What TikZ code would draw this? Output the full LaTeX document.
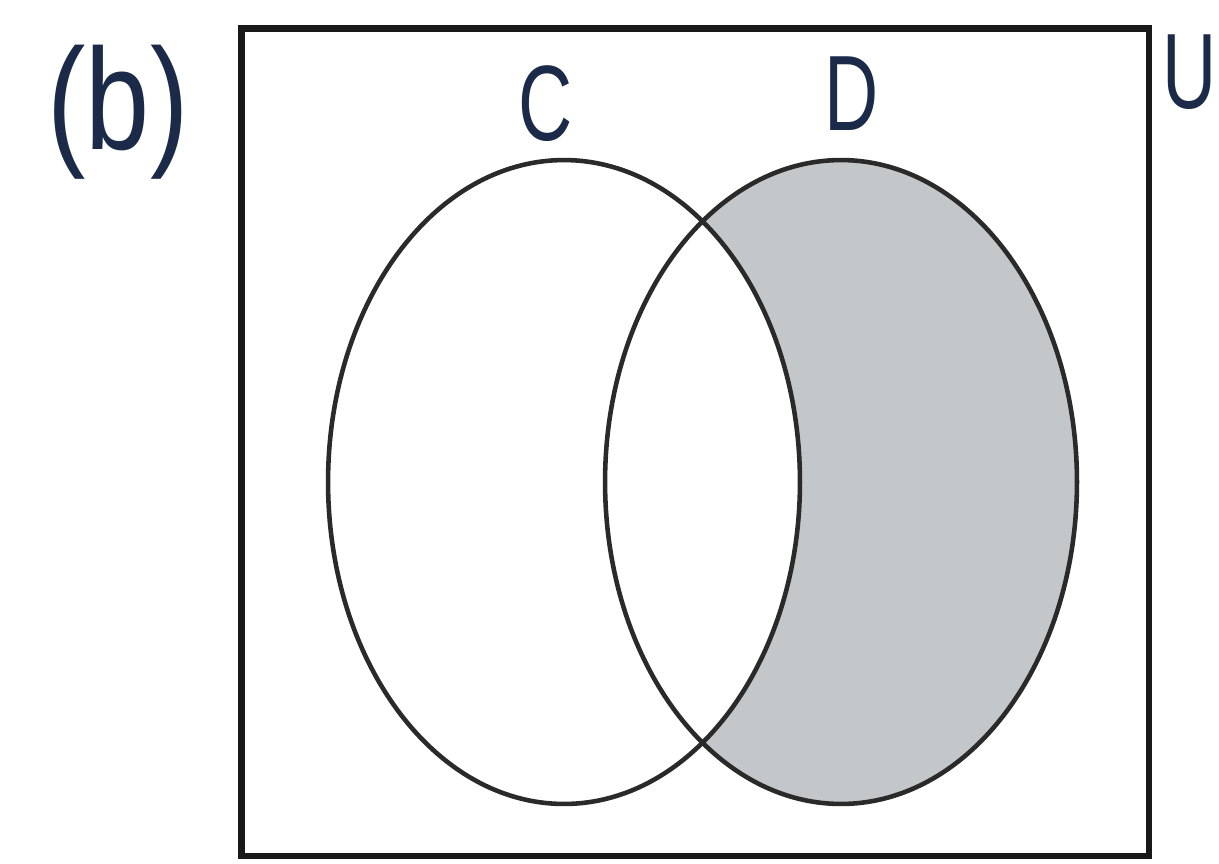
\documentclass[tikz,border=0pt]{standalone}
\usepackage{fontspec}
\setmainfont{Liberation Sans}
\definecolor{txt}{HTML}{1B2A48}
\definecolor{venngray}{HTML}{C3C7C9}
\definecolor{edge}{HTML}{2A2A2A}
\begin{document}
\begin{tikzpicture}[x=0.02cm,y=-0.02cm,
  lbl/.style={text=txt,inner sep=0pt,font=\fontsize{61}{61}\selectfont,xscale=0.7},
  setline/.style={draw=edge,line width=2.6pt},
  frame/.style={draw=black!90,line width=3.9pt,inner sep=0pt,minimum width=18.16cm,minimum height=16.56cm}]
\useasboundingbox (0,0) rectangle (1219,863);
% shading D minus C
\fill[venngray] (841,482) ellipse [x radius=4.72cm, y radius=6.44cm];
\fill[white] (564,482) ellipse [x radius=4.72cm, y radius=6.44cm];
\draw[setline] (564,482) ellipse [x radius=4.72cm, y radius=6.44cm];
\draw[setline] (841,482) ellipse [x radius=4.72cm, y radius=6.44cm];
\node[frame] (U) at (695,442) {};
\node[lbl] (lc) at (546,104) {C};
\node[lbl] (ld) at (852,94) {D};
\node[lbl,anchor=west] (lu) at (1162,72) {U};
\node[text=txt,inner sep=0pt,font=\fontsize{82}{82}\selectfont,xscale=0.8] (lb) at (118,112) {(b)};
\end{tikzpicture}
\end{document}
